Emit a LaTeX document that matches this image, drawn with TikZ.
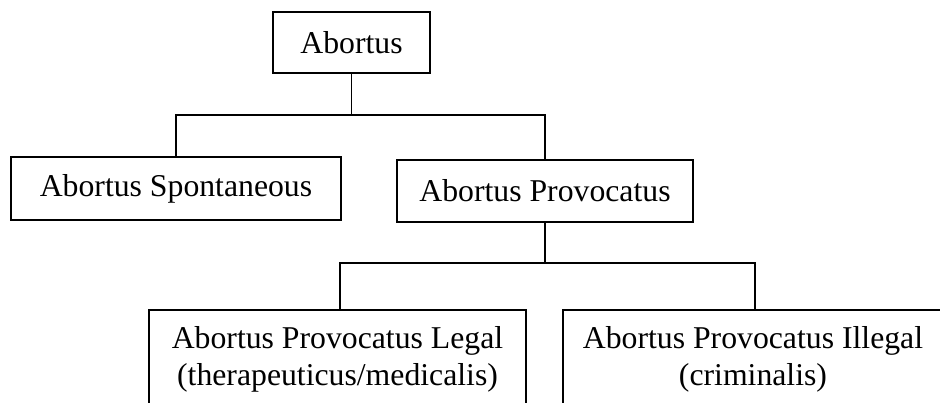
\documentclass[tikz,border=0pt]{standalone}
\usepackage{fontspec}
\setmainfont{Liberation Serif}
\begin{document}
\begin{tikzpicture}[x=0.75pt,y=-0.75pt,
  every node/.style={font=\fontsize{23.8pt}{27.5pt}\selectfont},
  box/.style={draw,line width=1.3pt,inner sep=0pt},
  txt/.style={anchor=base,inner sep=0pt},
  conn/.style={line width=1.3pt}]
\useasboundingbox (0,0) rectangle (940,403);
\clip (0,0) rectangle (940,403);
\node[box,minimum width=157*0.75pt,minimum height=61*0.75pt] (A) at (351.5,42.5) {Abortus};
\node[box,minimum width=330*0.75pt,minimum height=63*0.75pt] (S) at (176,188.5) {Abortus Spontaneous};
\node[box,minimum width=296*0.75pt,minimum height=62*0.75pt] (P) at (545,191) {Abortus Provocatus};
\node[box,anchor=north,minimum width=377*0.75pt,minimum height=200*0.75pt] (L) at (337.5,309) {};
\node[box,anchor=north,minimum width=380*0.75pt,minimum height=200*0.75pt] (I) at (753,309) {};
\node[txt] (L1) at (337.5,348) {Abortus Provocatus Legal};
\node[txt] (L2) at (337.5,385) {(therapeuticus/medicalis)};
\node[txt] (I1) at (753,348) {Abortus Provocatus Illegal};
\node[txt] (I2) at (753,385) {(criminalis)};
\coordinate (j1) at (351.5,115);
\coordinate (j2) at (545,263);
\coordinate (lj) at (340,263);
\coordinate (rj) at (755,263);
\draw[conn] (A.south) -- (j1);
\draw[conn] (S.north) |- (P.north |- j1) -- (P.north);
\draw[conn] (P.south) -- (j2);
\draw[conn] (lj |- L.north) |- (rj) -- (rj |- I.north);
\end{tikzpicture}
\end{document}
